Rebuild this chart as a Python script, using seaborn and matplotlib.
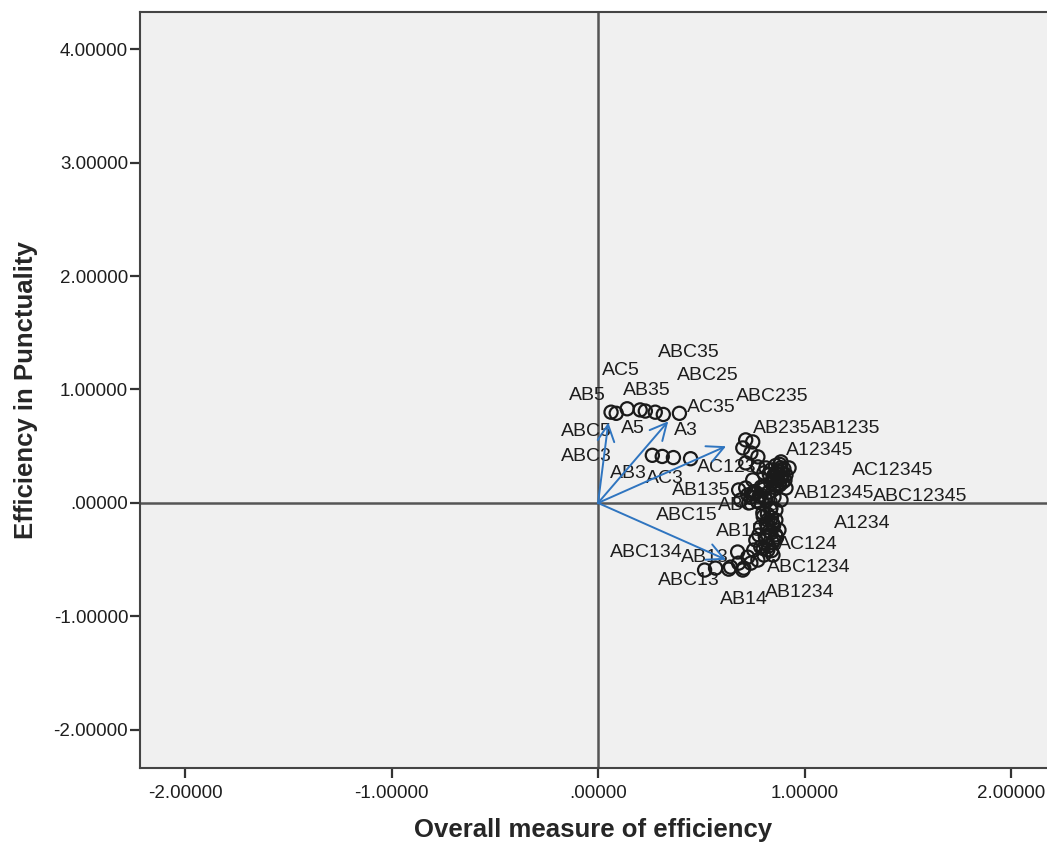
import numpy as np
import matplotlib
matplotlib.use("Agg")
import matplotlib.pyplot as plt
import seaborn as sns
from matplotlib.ticker import FuncFormatter

# Object scores (estimated from the plot)
score_x = [0.063, 0.088, 0.141, 0.204, 0.229, 0.277, 0.316, 0.394,
           0.263, 0.311, 0.365, 0.448,
           0.715, 0.749, 0.701, 0.740, 0.774, 0.715, 0.774, 0.803, 0.837, 0.861,
           0.886, 0.871, 0.837, 0.803, 0.749, 0.715, 0.754, 0.691, 0.730, 0.774,
           0.813, 0.852, 0.886, 0.837, 0.813, 0.910, 0.895, 0.861, 0.827, 0.910,
           0.788, 0.847, 0.886, 0.925, 0.681, 0.725, 0.798, 0.822, 0.788, 0.822,
           0.837, 0.813, 0.852, 0.788, 0.754, 0.822, 0.725, 0.774, 0.681, 0.642,
           0.706, 0.740, 0.861, 0.876, 0.847, 0.764, 0.861, 0.779, 0.803, 0.569,
           0.516, 0.633, 0.701, 0.676, 0.870, 0.880, 0.830, 0.800, 0.845, 0.865,
           # dense blobs
           0.860, 0.880, 0.900, 0.870, 0.890, 0.850, 0.905, 0.875, 0.855, 0.895,
           0.885, 0.865, 0.760, 0.780, 0.800, 0.740, 0.770, 0.790, 0.750, 0.810,
           0.820, 0.840, 0.850, 0.830, 0.810, 0.845, 0.825, 0.860, 0.815, 0.835,
           0.800, 0.840]
score_y = [0.80, 0.79, 0.83, 0.82, 0.81, 0.80, 0.78, 0.79,
           0.42, 0.41, 0.40, 0.39,
           0.556, 0.538, 0.485, 0.441, 0.406, 0.353, 0.318, 0.265, 0.291, 0.265,
           0.291, 0.203, 0.176, 0.141, 0.203, 0.132, 0.097, 0.026, 0.000, 0.009,
           0.026, 0.053, 0.026, -0.044, 0.309, 0.247, 0.185, 0.132, 0.097, 0.132,
           0.071, 0.221, 0.362, 0.309, 0.115, 0.071, -0.088, -0.150, -0.212, -0.212,
           -0.265, -0.327, -0.327, -0.388, -0.415, -0.415, -0.477, -0.503, -0.530, -0.565,
           -0.574, -0.530, -0.150, -0.238, -0.459, -0.327, -0.062, -0.282, -0.459, -0.574,
           -0.591, -0.583, -0.591, -0.432, 0.220, 0.160, 0.250, -0.120, -0.180, -0.300,
           0.330, 0.340, 0.300, 0.280, 0.230, 0.240, 0.200, 0.170, 0.190, 0.260,
           0.310, 0.150, 0.100, 0.060, 0.120, 0.050, 0.020, 0.140, 0.080, 0.040,
           -0.100, -0.130, -0.200, -0.250, -0.300, -0.350, -0.380, -0.280, -0.180, -0.060,
           -0.400, -0.420]

# Point labels
label_text = ["ABC35", "AC5", "ABC25", "AB5", "AB35", "ABC235", "AC35", "ABC5", "A5", "A3",
              "AB235", "AB1235", "ABC3", "A12345", "AC12345", "AB3", "AC3", "AC123",
              "AB135", "AB12345", "ABC12345", "ABC23", "ABC15", "A1234", "AB15", "AC124",
              "ABC134", "AB13", "ABC1234", "ABC13", "AB14", "AB1234"]
label_x = [0.29, 0.02, 0.38, -0.14, 0.12, 0.67, 0.43, -0.18, 0.11, 0.37,
           0.75, 1.03, -0.18, 0.91, 1.23, 0.06, 0.23, 0.48,
           0.36, 0.95, 1.33, 0.58, 0.28, 1.14, 0.57, 0.87,
           0.06, 0.40, 0.82, 0.29, 0.59, 0.81]
label_y = [1.33, 1.17, 1.12, 0.95, 0.99, 0.94, 0.84, 0.63, 0.66, 0.64,
           0.66, 0.66, 0.41, 0.46, 0.29, 0.26, 0.22, 0.31,
           0.11, 0.08, 0.06, -0.02, -0.11, -0.18, -0.25, -0.37,
           -0.44, -0.48, -0.57, -0.68, -0.85, -0.79]

# Component loading vectors
vector_x = [0.05, 0.34, 0.62, 0.62]
vector_y = [0.71, 0.72, 0.50, -0.50]

x_ticks = [-2, -1, 0, 1, 2]
y_ticks = [-2, -1, 0, 1, 2, 3, 4]

sns.set_style("white")
plt.rcParams["font.family"] = ["Liberation Sans", "DejaVu Sans"]

fig = plt.figure(figsize=(10.47, 8.47), dpi=100)
ax = fig.add_axes([0.1337, 0.0933, 0.8663, 0.8925])
ax.set_facecolor("#f0f0f0")

# labels first so the circles sit over them
for t, lx, ly in zip(label_text, label_x, label_y):
    ax.text(lx, ly, t, fontsize=14, color="#1e1e1e", ha="left", va="center", zorder=2)

sns.scatterplot(x=score_x, y=score_y, ax=ax, marker="o", s=90, color="black",
                linewidth=1.6, zorder=3, legend=False)
pts = ax.collections[-1]
pts.set_facecolor("none")
pts.set_edgecolor("#1a1a1a")

ax.axhline(0, color="#555555", lw=1.8, zorder=1)
ax.axvline(0, color="#555555", lw=1.8, zorder=1)

for vx, vy in zip(vector_x, vector_y):
    ax.annotate("", xy=(vx, vy), xytext=(0, 0),
                arrowprops=dict(arrowstyle="->", color="#2f75c0", lw=1.4,
                                mutation_scale=30, shrinkA=0, shrinkB=0),
                zorder=4)

ax.set_xlim(-2.218, 2.174)
ax.set_ylim(-2.335, 4.326)
ax.set_xticks(x_ticks)
ax.set_yticks(y_ticks)


def fmt(v, pos):
    if abs(v) < 1e-9:
        return ".00000"
    return f"{v:.5f}"


ax.xaxis.set_major_formatter(FuncFormatter(fmt))
ax.yaxis.set_major_formatter(FuncFormatter(fmt))
ax.tick_params(axis="both", direction="out", length=7.5, width=1.6, color="#333333",
               labelsize=13.5, labelcolor="#1e1e1e", pad=1, bottom=True, left=True)
ax.tick_params(axis="x", pad=5)

for side in ["left", "bottom", "top"]:
    ax.spines[side].set_color("#444444")
    ax.spines[side].set_linewidth(1.5)
ax.spines["right"].set_visible(False)

ax.set_xlabel("Overall measure of efficiency", fontsize=18.5, fontweight="bold", labelpad=11)
ax.set_ylabel("Efficiency in Punctuality", fontsize=18.5, fontweight="bold", labelpad=11)

fig.savefig("out.png", dpi=100)
